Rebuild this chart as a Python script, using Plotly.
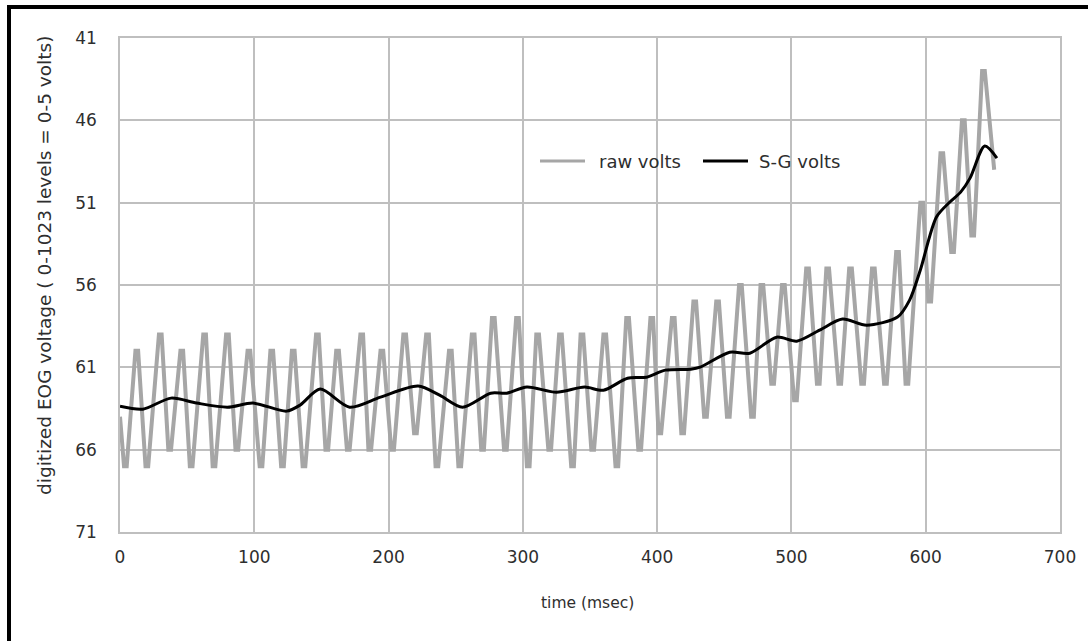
import plotly.graph_objects as go

raw_t = [0,
         3, 5, 11.5, 13.5, 19, 21, 29, 31, 36, 38, 45, 47, 52, 54, 62, 64, 69, 71, 79, 81,
         86, 88, 95, 97, 104, 106, 112, 114, 120, 122, 128, 130, 136, 138, 146, 148, 153, 155, 161, 163,
         169, 171, 179, 181, 185, 187, 194, 196, 202, 204, 211, 213, 219, 221, 228, 230, 235, 237, 245, 247,
         252, 254, 262, 264, 269, 271, 277, 279, 286, 288, 295, 297, 303, 305, 310, 312, 319, 321, 327, 329,
         336, 338, 343, 345, 351, 353, 360, 362, 369, 371, 377, 379, 386, 388, 395, 397, 401, 403, 411, 413,
         418, 420, 427, 429, 435, 437, 444, 446, 452, 454, 461, 463, 470, 472, 477, 479, 485, 487, 493, 495,
         502, 504, 511, 513, 519, 521, 526, 528, 535, 537, 543, 545, 552, 554, 560, 562, 569, 571, 578, 580,
         585, 587, 596, 598, 602, 604, 611, 613, 619, 621, 627, 629, 634, 636, 642, 644,
         651]
raw_v = [64,
         67, 67, 60, 60, 67, 67, 59, 59, 66, 66, 60, 60, 67, 67, 59, 59, 67, 67, 59, 59,
         66, 66, 60, 60, 67, 67, 60, 60, 67, 67, 60, 60, 67, 67, 59, 59, 66, 66, 60, 60,
         66, 66, 59, 59, 66, 66, 60, 60, 66, 66, 59, 59, 65, 65, 59, 59, 67, 67, 60, 60,
         67, 67, 59, 59, 66, 66, 58, 58, 66, 66, 58, 58, 67, 67, 59, 59, 66, 66, 59, 59,
         67, 67, 59, 59, 66, 66, 59, 59, 67, 67, 58, 58, 66, 66, 58, 58, 65, 65, 58, 58,
         65, 65, 57, 57, 64, 64, 57, 57, 64, 64, 56, 56, 64, 64, 56, 56, 62, 62, 56, 56,
         63, 63, 55, 55, 62, 62, 55, 55, 62, 62, 55, 55, 62, 62, 55, 55, 62, 62, 54, 54,
         62, 62, 51, 51, 57, 57, 48, 48, 54, 54, 46, 46, 53, 53, 43, 43,
         49]

# Savitzky-Golay smoothed trace
sg_t = [0, 17, 38, 57, 80, 99, 124, 134, 149, 171,
        194, 222, 238, 255, 276, 288, 303, 325, 346, 360,
        378, 392, 406, 425, 432, 454, 469, 489, 504, 521,
        538, 556, 579, 588, 596, 608, 618, 626, 633, 644, 653]
sg_v = [63.36, 63.54, 62.87, 63.17, 63.42, 63.17, 63.66, 63.30, 62.32, 63.42,
        62.81, 62.14, 62.69, 63.42, 62.57, 62.57, 62.20, 62.51, 62.20, 62.39,
        61.66, 61.60, 61.17, 61.11, 60.99, 60.08, 60.14, 59.17, 59.41, 58.74,
        58.07, 58.44, 57.95, 56.92, 55.09, 51.87, 50.96, 50.36, 49.51, 47.56, 48.29]

series_names = ["raw volts", "S-G volts"]
series_colors = ["#A6A6A6", "#000000"]
y_ticks = [41, 46, 51, 56, 61, 66, 71]
x_ticks = [0, 100, 200, 300, 400, 500, 600, 700]

FONT = "DejaVu Sans"
GRID = "#BFBFBF"
TXT = "#2E2E2E"

fig = go.Figure()
fig.add_trace(go.Scatter(x=raw_t, y=raw_v, mode="lines", name=series_names[0],
                         line=dict(color=series_colors[0], width=4), showlegend=False))
fig.add_trace(go.Scatter(x=sg_t, y=sg_v, mode="lines", name=series_names[1],
                         line=dict(color=series_colors[1], width=3, shape="spline", smoothing=0.8),
                         showlegend=False))

W, H = 1091, 641
L, R, T, B = 120, 31, 38, 109
pw, ph = W - L - R, H - T - B

def px(x):
    return (x - L) / pw

def py(y):
    return (H - B - y) / ph

# manual legend (line sample + label)
leg_y = 161
leg_items = [(540, 585, 597), (703, 748, 757)]
shapes = []
annots = []
for (x0, x1, xt), name, col in zip(leg_items, series_names, series_colors):
    shapes.append(dict(type="line", xref="paper", yref="paper", x0=px(x0), x1=px(x1),
                       y0=py(leg_y), y1=py(leg_y), line=dict(color=col, width=3)))
    annots.append(dict(text=name, xref="paper", yref="paper", x=px(xt), y=py(leg_y),
                       xanchor="left", yanchor="middle", showarrow=False,
                       font=dict(size=18, color=TXT)))

annots += [
    dict(text="time (msec)", xref="paper", yref="paper", x=px(587), y=py(603),
         xanchor="center", yanchor="middle", showarrow=False,
         font=dict(size=15.5, color=TXT)),
    dict(text="digitized EOG voltage ( 0-1023 levels = 0-5 volts)", xref="paper", yref="paper",
         x=px(44), y=py(266), xanchor="center", yanchor="middle", textangle=-90,
         showarrow=False, font=dict(size=18.5, color=TXT)),
]
shapes.append(dict(type="path", xref="paper", yref="paper",
                   path=f"M {px(9)} {py(660)} L {px(9)} {py(7)} L {px(1088)} {py(7)}",
                   line=dict(color="black", width=4)))

fig.update_layout(
    width=W, height=H,
    margin=dict(l=L, r=R, t=T, b=B),
    paper_bgcolor="white", plot_bgcolor="white",
    font=dict(family=FONT, size=17, color=TXT),
    showlegend=False,
    xaxis=dict(range=[0, 700], tickvals=x_ticks, ticktext=[str(v) for v in x_ticks],
               showgrid=True, gridcolor=GRID, gridwidth=1.5,
               showline=True, linecolor=GRID, linewidth=1.5, mirror=True,
               zeroline=False, ticks="", ticklabelstandoff=9,
               tickfont=dict(size=17, color=TXT)),
    yaxis=dict(range=[71, 41], tickvals=y_ticks, ticktext=[str(v) for v in y_ticks],
               showgrid=True, gridcolor=GRID, gridwidth=1.5,
               showline=True, linecolor=GRID, linewidth=1.5, mirror=True,
               zeroline=False, ticks="", ticklabelstandoff=18,
               tickfont=dict(size=17, color=TXT)),
    annotations=annots,
    shapes=shapes,
)

fig.write_html("out.html", config={"displayModeBar": False})

# remove the browser's default page margin so the figure sits at the window origin
with open("out.html", "r", encoding="utf-8") as f:
    html = f.read()
html = html.replace("<head>", "<head><style>html,body{margin:0;padding:0;overflow:hidden;}</style>", 1)
with open("out.html", "w", encoding="utf-8") as f:
    f.write(html)
